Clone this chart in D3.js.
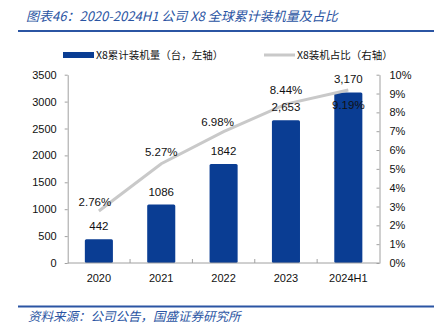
<!DOCTYPE html>
<html>
<head>
<meta charset="utf-8">
<script src="https://cdn.jsdelivr.net/npm/d3@7"></script>
<style>
  body { margin: 0; background: #fff; }
  svg { display: block; }
</style>
</head>
<body>
<svg id="renderer" width="435" height="334"></svg>
<script>
// data
const years = ['2020', '2021', '2022', '2023', '2024H1'];
const installs = [442, 1086, 1842, 2653, 3170];
const installLabels = ['442', '1086', '1842', '2,653', '3,170'];
const shares = [2.76, 5.27, 6.98, 8.44, 9.19];
const leftTicks = [0, 500, 1000, 1500, 2000, 2500, 3000, 3500];
const rightTicks = [0, 1, 2, 3, 4, 5, 6, 7, 8, 9, 10];

// label nudges (px) for the percent labels, as placed in the original
const pctDx = [-4, 0, -6, 0, 0];
const pctDy = [-9, -12, -10, -14, 15];

const BLUE = '#0a3d93';
const HEAD = '#2b55a3';
const GREY_LINE = '#c9c9c9';
const AXIS = '#a0a0a0';
const NUM_FONT = "'Liberation Sans', Arial, sans-serif";
const CJK_FONT = "'Noto Sans CJK SC', sans-serif";

const root = d3.select('#renderer');

const plotLeft = 67.7, plotRight = 379.5, plotTop = 74.7, plotBottom = 263;

let x = d3.scaleBand()
    .domain(years)
    .range([plotLeft, plotRight])
    .paddingInner(0.55)
    .paddingOuter(0.275);

let y = d3.scaleLinear().domain([0, 3500]).range([plotBottom, plotTop]);
let y2 = d3.scaleLinear().domain([0, 10]).range([plotBottom, plotTop]);

// title
root.append('text')
    .attr('x', 26)
    .attr('y', 21)
    .attr('fill', HEAD)
    .style('font-family', CJK_FONT)
    .style('font-style', 'italic')
    .style('font-size', '13px')
    .text('图表46：2020-2024H1 公司 X8 全球累计装机量及占比');

root.append('line')
    .attr('x1', 18).attr('x2', 434)
    .attr('y1', 31).attr('y2', 31)
    .attr('stroke', HEAD).attr('stroke-width', 2);

// legend
root.append('rect')
    .attr('x', 63).attr('y', 52)
    .attr('width', 31).attr('height', 6)
    .attr('fill', BLUE);
root.append('text')
    .attr('x', 96).attr('y', 59)
    .style('font-family', CJK_FONT)
    .style('font-size', '10.5px')
    .attr('fill', '#111')
    .text('X8累计装机量（台，左轴）');
root.append('line')
    .attr('x1', 264).attr('x2', 295)
    .attr('y1', 55).attr('y2', 55)
    .attr('stroke', GREY_LINE).attr('stroke-width', 3);
root.append('text')
    .attr('x', 297).attr('y', 59)
    .style('font-family', CJK_FONT)
    .style('font-size', '10.5px')
    .attr('fill', '#111')
    .text('X8装机占比（右轴）');

// bars
root.append('g').selectAll('rect')
    .data(installs)
    .join('rect')
    .attr('x', (d, i) => x(years[i]))
    .attr('y', d => y(d))
    .attr('width', x.bandwidth())
    .attr('height', d => plotBottom - y(d))
    .attr('rx', 1.5)
    .attr('fill', BLUE);

// axes
function styleAxis(sel) {
    sel.selectAll('path, line').attr('stroke', AXIS);
    sel.selectAll('text')
        .attr('fill', '#111')
        .style('font-family', NUM_FONT)
        .style('font-size', '11px');
}

root.append('g')
    .attr('transform', 'translate(' + plotLeft + ',0)')
    .call(d3.axisLeft(y).tickValues(leftTicks).tickSize(3).tickSizeOuter(0).tickPadding(8)
        .tickFormat(d => String(d)))
    .call(styleAxis);

root.append('g')
    .attr('transform', 'translate(' + plotRight + ',0)')
    .call(d3.axisRight(y2).tickValues(rightTicks).tickSize(-3).tickSizeOuter(0).tickPadding(10)
        .tickFormat(d => d + '%'))
    .call(styleAxis);

// category axis: baseline, ticks between groups, labels
root.append('line')
    .attr('x1', plotLeft).attr('x2', plotRight)
    .attr('y1', plotBottom).attr('y2', plotBottom)
    .attr('stroke', AXIS);

root.append('g').selectAll('line')
    .data(years.slice(1))
    .join('line')
    .attr('x1', d => x(d) - x.step() * x.paddingInner() / 2)
    .attr('x2', d => x(d) - x.step() * x.paddingInner() / 2)
    .attr('y1', plotBottom - 4).attr('y2', plotBottom)
    .attr('stroke', AXIS);

root.append('g').selectAll('text')
    .data(years)
    .join('text')
    .attr('x', d => x(d) + x.bandwidth() / 2)
    .attr('y', 282)
    .attr('text-anchor', 'middle')
    .style('font-family', NUM_FONT)
    .style('font-size', '11px')
    .attr('fill', '#111')
    .text(d => d);

// share line
let line = d3.line()
    .x((d, i) => x(years[i]) + x.bandwidth() / 2)
    .y(d => y2(d));

root.append('path')
    .attr('d', line(shares))
    .attr('fill', 'none')
    .attr('stroke', GREY_LINE)
    .attr('stroke-width', 3);

// bar labels
root.append('g').selectAll('text')
    .data(installs)
    .join('text')
    .attr('x', (d, i) => x(years[i]) + x.bandwidth() / 2)
    .attr('y', d => y(d) - 9)
    .attr('text-anchor', 'middle')
    .style('font-family', NUM_FONT)
    .style('font-size', '11.5px')
    .attr('fill', '#111')
    .text((d, i) => installLabels[i]);

// percent labels
root.append('g').selectAll('text')
    .data(shares)
    .join('text')
    .attr('x', (d, i) => x(years[i]) + x.bandwidth() / 2 + pctDx[i])
    .attr('y', (d, i) => y2(d) + pctDy[i] + 4)
    .attr('text-anchor', 'middle')
    .style('font-family', NUM_FONT)
    .style('font-size', '11.5px')
    .attr('fill', '#111')
    .text(d => d.toFixed(2) + '%');

// footer
root.append('line')
    .attr('x1', 18).attr('x2', 434)
    .attr('y1', 306.5).attr('y2', 306.5)
    .attr('stroke', HEAD).attr('stroke-width', 2);

root.append('text')
    .attr('x', 28).attr('y', 320.5)
    .attr('fill', HEAD)
    .style('font-family', CJK_FONT)
    .style('font-style', 'italic')
    .style('font-size', '12.5px')
    .text('资料来源：公司公告，国盛证券研究所');
</script>
</body>
</html>
